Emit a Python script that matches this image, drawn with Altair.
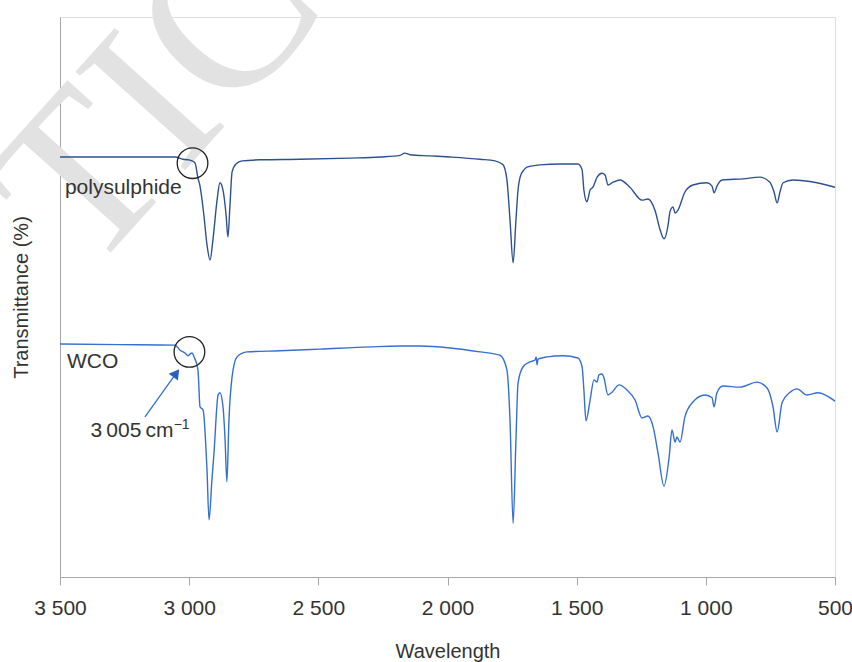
import altair as alt
import pandas as pd

# ---- spectra (wavenumber, transmittance in arbitrary %) ----
poly_wn = [3500, 3268, 3055, 3024, 3004, 2989, 2977, 2966, 2958, 2943, 2931, 2919, 2908, 2892,
           2881, 2869, 2857, 2850, 2842, 2834, 2819, 2795, 2726, 2571, 2377, 2261, 2184, 2165,
           2145, 2068, 1990, 1874, 1816, 1785, 1770, 1758, 1746, 1735, 1727, 1719, 1704, 1692,
           1642, 1565, 1495, 1479, 1472, 1460, 1448, 1437, 1421, 1402, 1390, 1379, 1359, 1332,
           1294, 1247, 1224, 1197, 1177, 1162, 1146, 1139, 1127, 1119, 1108, 1081, 1050, 995,
           976, 968, 957, 937, 856, 790, 752, 736, 724, 713, 701, 663, 570, 500]
poly_t = [75.0, 75.0, 75.0, 74.6, 74.5, 74.3, 73.9, 71.25, 69.8, 64.6, 59.3, 56.6, 60.2, 67.3,
          70.4, 69.1, 64.6, 60.7, 66.4, 72.3, 73.75, 74.3, 74.5, 74.6, 74.8, 75.0, 75.3, 75.7,
          75.4, 75.2, 75.0, 74.6, 74.3, 73.6, 70.9, 63.75, 56.1, 63.75, 69.1, 71.4, 72.7, 73.2,
          73.6, 73.75, 73.75, 72.7, 69.1, 67.0, 69.1, 69.6, 71.4, 72.1, 71.8, 70.0, 70.5, 70.9,
          69.6, 67.3, 67.5, 65.5, 62.0, 60.4, 62.9, 65.2, 66.1, 65.0, 65.5, 68.75, 70.0, 70.4,
          69.8, 68.6, 69.8, 70.9, 71.1, 71.4, 70.5, 68.75, 66.8, 68.75, 70.4, 70.9, 70.4, 69.6]

wco_wn = [3500, 3268, 3055, 3035, 3016, 3004, 2997, 2989, 2981, 2966, 2958, 2946, 2931, 2923,
          2912, 2904, 2888, 2881, 2869, 2861, 2854, 2846, 2834, 2815, 2776, 2648, 2494, 2300,
          2184, 2106, 1990, 1874, 1797, 1770, 1758, 1746, 1735, 1727, 1708, 1681, 1661, 1657,
          1653, 1650, 1615, 1553, 1495, 1479, 1472, 1464, 1448, 1433, 1421, 1414, 1402, 1394,
          1379, 1363, 1336, 1305, 1274, 1247, 1224, 1204, 1185, 1162, 1142, 1131, 1119, 1112,
          1100, 1081, 1050, 1003, 976, 968, 957, 934, 868, 802, 763, 740, 724, 705, 674, 647,
          608, 566, 500]
wco_t = [41.6, 41.5, 41.4, 40.5, 40.0, 39.5, 39.8, 40.0, 39.3, 37.0, 30.4, 29.8, 19.1, 10.2,
         17.3, 22.1, 32.5, 32.9, 30.4, 24.5, 17.0, 28.0, 35.7, 39.3, 40.2, 40.4, 40.7, 41.1,
         41.25, 41.25, 40.9, 40.2, 39.6, 37.0, 28.0, 9.6, 24.5, 34.6, 37.5, 38.4, 38.75, 39.3,
         37.9, 38.9, 39.3, 39.5, 39.1, 37.5, 33.4, 27.9, 31.6, 35.2, 34.8, 36.1, 36.25, 35.5,
         32.5, 33.0, 34.3, 33.4, 31.6, 28.4, 28.75, 26.8, 22.1, 16.25, 21.4, 26.25, 24.1, 25.0,
         24.1, 28.6, 31.25, 32.5, 32.0, 30.4, 32.9, 34.1, 33.9, 34.8, 33.75, 30.4, 25.9, 31.1,
         33.0, 33.6, 32.5, 32.9, 31.4]

series_names = ["polysulphide", "WCO"]
series_colors = ["#2d5190", "#3470d0"]
tick_values = [3500, 3000, 2500, 2000, 1500, 1000, 500]

# annotations
label_text = ["polysulphide", "WCO", "3\u2009005\u2009cm"]
label_wn = [3481, 3473, 3382]
label_t = [68.4, 37.3, 25.0]
label_size = [21, 21, 21]
sup_text = ["\u22121"]
sup_wn = [3060]
sup_t = [26.5]
circle_wn = [2987, 2999]
circle_t = [73.9, 40.2]
arrow_wn = [3171]
arrow_t = [28.6]
arrow_wn2 = [3050]
arrow_t2 = [36.4]
watermark_text = ["TIC"]
watermark_wn = [3120]
watermark_t = [85.5]

df = pd.concat([
    pd.DataFrame({"wn": poly_wn, "t": poly_t, "s": series_names[0]}),
    pd.DataFrame({"wn": wco_wn, "t": wco_t, "s": series_names[1]}),
], ignore_index=True)

xs = alt.Scale(domain=[3500, 500], nice=False, zero=False)
ys = alt.Scale(domain=[0, 100], nice=False, zero=False)
FONT = "Liberation Sans"
TXT = "#333333"

x_axis = alt.Axis(values=tick_values,
                  labelExpr="replace(format(datum.value, ','), ',', ' ')",
                  grid=False, domainColor="#a8a8a8", tickColor="#a8a8a8", tickSize=8,
                  labelFontSize=21, labelColor=TXT, labelFont=FONT, labelPadding=12,
                  labelOverlap=False, labelFlush=False,
                  title="Wavelength", titleFontSize=20, titleFont=FONT,
                  titleFontWeight="normal", titleColor=TXT, titlePadding=23)
y_axis = alt.Axis(labels=False, ticks=False, grid=False, domainColor="#a8a8a8",
                  title="Transmittance (%)", titleFontSize=20, titleFont=FONT,
                  titleFontWeight="normal", titleColor=TXT, titlePadding=29)

wm = alt.Chart(pd.DataFrame({"wn": watermark_wn, "t": watermark_t, "txt": watermark_text})).mark_text(
    font="Liberation Serif", fontSize=225, color="#e2e2e2", angle=312,
    align="center", baseline="middle").encode(
    x=alt.X("wn:Q", scale=xs, axis=x_axis), y=alt.Y("t:Q", scale=ys, axis=y_axis), text="txt:N")

lines = alt.Chart(df).mark_line(strokeWidth=1.4, interpolate="monotone").encode(
    x=alt.X("wn:Q", scale=xs, axis=x_axis),
    y=alt.Y("t:Q", scale=ys, axis=y_axis),
    color=alt.Color("s:N", scale=alt.Scale(domain=series_names, range=series_colors), legend=None),
    order=alt.Order("wn:Q", sort="descending"),
)

labels = alt.Chart(pd.DataFrame({"wn": label_wn, "t": label_t, "txt": label_text,
                                 "fs": label_size})).mark_text(
    font=FONT, color=TXT, align="left", baseline="alphabetic").encode(
    x="wn:Q", y="t:Q", text="txt:N", size=alt.Size("fs:Q", scale=None, legend=None))

sup = alt.Chart(pd.DataFrame({"wn": sup_wn, "t": sup_t, "txt": sup_text})).mark_text(
    font=FONT, fontSize=14, color=TXT, align="left", baseline="alphabetic").encode(
    x="wn:Q", y="t:Q", text="txt:N")

circles = alt.Chart(pd.DataFrame({"wn": circle_wn, "t": circle_t})).mark_point(
    shape="circle", filled=False, size=940, color="#222222", strokeWidth=1.3, opacity=1).encode(
    x="wn:Q", y="t:Q")

arrow_df = pd.DataFrame({"wn": arrow_wn, "t": arrow_t, "wn2": arrow_wn2, "t2": arrow_t2})
arrow_line = alt.Chart(arrow_df).mark_rule(color="#3470d0", strokeWidth=1.3).encode(
    x="wn:Q", y="t:Q", x2="wn2:Q", y2="t2:Q")
arrow_head = alt.Chart(arrow_df).mark_point(
    shape="triangle-up", filled=True, size=130, angle=36, color="#2a5fc0", opacity=1).encode(
    x="wn2:Q", y="t2:Q")

chart = alt.layer(wm, lines, labels, sup, circles, arrow_line, arrow_head).properties(
    width=775, height=560,
    autosize=alt.AutoSizeParams(type="none"),
    padding={"left": 60, "top": 17, "right": 17, "bottom": 85},
).configure_view(stroke=None).configure(background="white")

chart.save("out.html", embed_options={"renderer": "svg", "actions": False})
